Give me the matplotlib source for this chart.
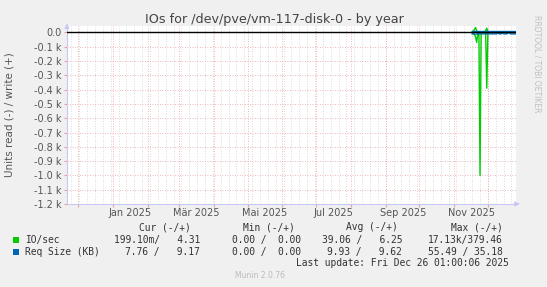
import datetime as dt
import matplotlib
matplotlib.use("Agg")
import matplotlib.pyplot as plt
import matplotlib.dates as mdates
import numpy as np

# ---------------- data ----------------
start_day = dt.datetime(2025, 11, 17)
n_days = 40
days = [start_day + dt.timedelta(days=i) for i in range(n_days)]

# IO/sec reads (plotted negative) and writes (positive), daily averages
io_read = [3, 8, 15, 30, 70, 10, 5, 1000, 5, 3, 3, 3, 4, 390,
           3, 2, 2, 2, 2, 2, 2, 2, 2, 2, 2, 2, 2, 2, 2, 2, 2, 2, 2, 2, 2, 2, 2, 2, 2, 2]
io_write = [5, 10, 20, 35, 8, 6, 5, 5, 5, 5, 5, 5, 12, 30,
            5, 4, 4, 4, 4, 4, 4, 4, 4, 4, 4, 4, 4, 4, 4, 4, 4, 4, 4, 4, 4, 4, 4, 4, 4, 4]
# Request size (KB), reads negative, writes positive
req_read = [10, 10, 11, 12, 10, 10, 9, 10, 10, 10, 10, 10, 10, 10,
            10, 10, 10, 10, 10, 10, 10, 10, 10, 2, 10, 10, 10, 2, 10, 10, 10, 10, 2, 2, 10, 10, 10, 10, 10, 10]
req_write = [9] * n_days

x_start = dt.datetime(2024, 11, 21, 1, 0)
x_end = dt.datetime(2025, 12, 26, 1, 0)

y_ticks = [0, -100, -200, -300, -400, -500, -600, -700, -800, -900, -1000, -1100, -1200]
y_tick_labels = ["0.0", "-0.1 k", "-0.2 k", "-0.3 k", "-0.4 k", "-0.5 k", "-0.6 k",
                 "-0.7 k", "-0.8 k", "-0.9 k", "-1.0 k", "-1.1 k", "-1.2 k"]
x_label_months = [(2025, 1, "Jan 2025"), (2025, 3, "Mär 2025"), (2025, 5, "Mai 2025"),
                  (2025, 7, "Jul 2025"), (2025, 9, "Sep 2025"), (2025, 11, "Nov 2025")]

title = "IOs for /dev/pve/vm-117-disk-0 - by year"
ylabel = "Units read (-) / write (+)"
legend_header = ["Cur (-/+)", "Min (-/+)", "Avg (-/+)", "Max (-/+)"]
legend_names = ["IO/sec", "Req Size (KB)"]
legend_values = [
    ["199.10m/   4.31", "0.00 /  0.00", "39.06 /   6.25", "17.13k/379.46"],
    ["7.76 /   9.17", "0.00 /  0.00", "9.93 /   9.62", "55.49 / 35.18"],
]
colors = ["#00CC00", "#0066B3"]
last_update = "Last update: Fri Dec 26 01:00:06 2025"
footer = "Munin 2.0.76"
side_text = "RRDTOOL / TOBI OETIKER"

# ---------------- figure ----------------
W, H = 547, 287
fig = plt.figure(figsize=(W / 100, H / 100), dpi=100, facecolor="#F0F0F0")
L, R, T, B = 67, 516, 26, 204
ax = fig.add_axes([L / W, (H - B) / H, (R - L) / W, (B - T) / H])
ax.set_facecolor("white")
ax.set_xlim(mdates.date2num(x_start), mdates.date2num(x_end))
ax.set_ylim(-1200, 45)

# grid: minor weekly vertical
wk = mdates.WeekdayLocator(byweekday=mdates.MO)
for d in wk.tick_values(x_start, x_end):
    ax.axvline(d, color="#CFCFCF", lw=0.6, ls=(0, (1, 2)), zorder=0)
# major monthly vertical
month_starts = []
y, m = 2024, 12
while True:
    d = dt.datetime(y, m, 1)
    if d > x_end:
        break
    month_starts.append(d)
    m += 1
    if m > 12:
        m = 1
        y += 1
for d in month_starts:
    ax.axvline(mdates.date2num(d), color="#E8A0A0", lw=0.6, ls=(0, (1, 2)), zorder=0.5)
for yv in y_ticks:
    ax.axhline(yv, color="#E8A0A0", lw=0.6, ls=(0, (1, 2)), zorder=0.5)

# zero rule
ax.axhline(0, color="black", lw=1.0, zorder=5)

# data
xd = mdates.date2num(days)
ax.plot(xd, -np.array(io_read), color=colors[0], lw=1.0, zorder=3)
ax.plot(xd, np.array(io_write), color=colors[0], lw=1.0, zorder=3)
ax.plot(xd, -np.array(req_read), color=colors[1], lw=1.0, zorder=4)
ax.plot(xd, np.array(req_write), color=colors[1], lw=1.0, zorder=4)

# axes styling
for s in ["top", "right"]:
    ax.spines[s].set_visible(False)
for s in ["left", "bottom"]:
    ax.spines[s].set_color("#C8C8F5")
    ax.spines[s].set_linewidth(0.8)
ax.set_yticks(y_ticks)
ax.set_yticklabels(y_tick_labels)
ax.tick_params(axis="y", length=2, color="#E8A0A0", labelsize=7, labelcolor="#555555", pad=2)

ax.set_xticks(mdates.date2num(month_starts))
ax.set_xticklabels([])
ax.tick_params(axis="x", which="major", length=2, color="#E8A0A0")
mids = [mdates.date2num(dt.datetime(yy, mm, 1)) + 15.5 for yy, mm, _ in x_label_months]
ax.set_xticks(mids, minor=True)
ax.set_xticklabels([t for _, _, t in x_label_months], minor=True)
ax.tick_params(axis="x", which="minor", length=0, labelsize=7, labelcolor="#555555", pad=3)

# arrows
ax.annotate("", xy=(0, 1.03), xytext=(0, 0.98), xycoords="axes fraction",
            arrowprops=dict(arrowstyle="-|>", color="#C8C8F5", lw=0.8, mutation_scale=7), annotation_clip=False)
ax.annotate("", xy=(1.015, 0), xytext=(0.99, 0), xycoords="axes fraction",
            arrowprops=dict(arrowstyle="-|>", color="#C8C8F5", lw=0.8, mutation_scale=7), annotation_clip=False)

# texts
fig.text(274 / W, 1 - 19 / H, title, ha="center", va="center", fontsize=9.2, color="#444444")
fig.text(10 / W, 1 - 115 / H, ylabel, rotation=90, ha="center", va="center", fontsize=7.5, color="#555555")
fig.text(537 / W, 1 - 15 / H, side_text, rotation=270, ha="center", va="top", fontsize=5.5, color="#C0C0C0")

mono = "DejaVu Sans Mono"
fs = 6.9
col_right = [191, 295, 398, 503]
val_right = [200, 301, 402, 503]
for cx, h in zip(col_right, legend_header):
    fig.text(cx / W, 1 - 227 / H, h, ha="right", va="center", family=mono, fontsize=fs, color="#333333")
rows_y = [240, 252]
for ry, name, vals, c in zip(rows_y, legend_names, legend_values, colors):
    fig.patches.append(plt.Rectangle((13 / W, 1 - (ry + 3) / H), 6 / W, 6 / H,
                                     transform=fig.transFigure, facecolor=c, edgecolor="none"))
    fig.text(25 / W, 1 - ry / H, name, ha="left", va="center", family=mono, fontsize=fs, color="#333333")
    for vx, v in zip(val_right, vals):
        fig.text(vx / W, 1 - ry / H, v, ha="right", va="center", family=mono, fontsize=fs, color="#333333")
fig.text(509 / W, 1 - 263 / H, last_update, ha="right", va="center", family=mono, fontsize=fs, color="#333333")
fig.text(260 / W, 1 - 276 / H, footer, ha="center", va="center", fontsize=5.5, color="#BBBBBB")

fig.savefig("out.png", dpi=100, facecolor=fig.get_facecolor())
